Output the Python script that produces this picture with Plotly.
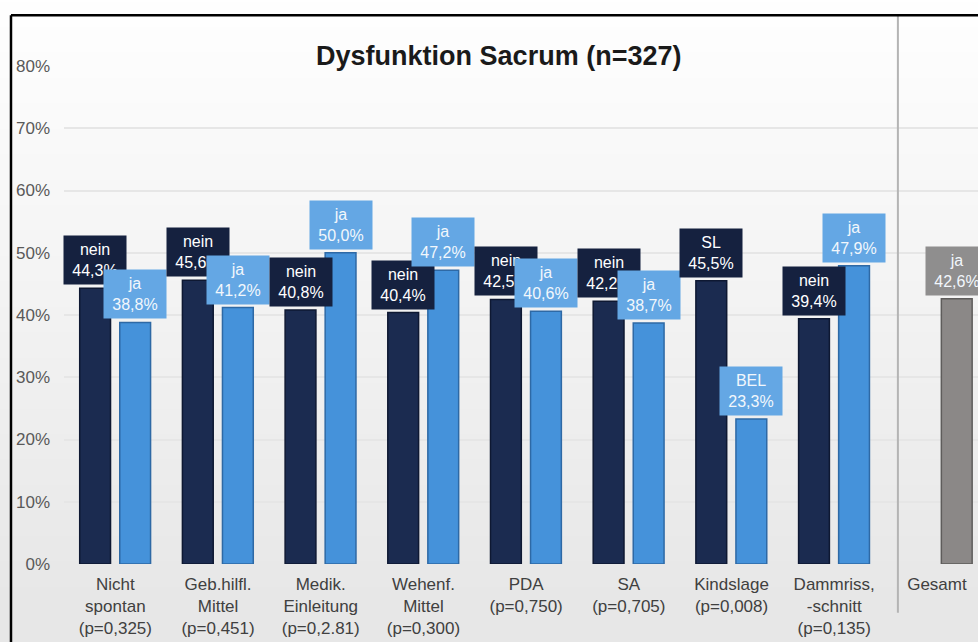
import plotly.graph_objects as go

# Data
categories = [
    "Nicht<br>spontan<br>(p=0,325)",
    "Geb.hilfl.<br>Mittel<br>(p=0,451)",
    "Medik.<br>Einleitung<br>(p=0,2.81)",
    "Wehenf.<br>Mittel<br>(p=0,300)",
    "PDA<br>(p=0,750)",
    "SA<br>(p=0,705)",
    "Kindslage<br>(p=0,008)",
    "Dammriss,<br>-schnitt<br>(p=0,135)",
    "Gesamt",
]
nein_values = [44.3, 45.6, 40.8, 40.4, 42.5, 42.2, 45.5, 39.4, None]
ja_values = [38.8, 41.2, 50.0, 47.2, 40.6, 38.7, 23.3, 47.9, 42.6]
nein_names = ["nein", "nein", "nein", "nein", "nein", "nein", "SL", "nein", ""]
ja_names = ["ja", "ja", "ja", "ja", "ja", "ja", "BEL", "ja", "ja"]
y_ticks = [0, 10, 20, 30, 40, 50, 60, 70, 80]

COLORS = {
    'dark': '#1b2b50',
    'dark_line': '#0e1832',
    'dark_box': '#15213f',
    'light': '#4592da',
    'light_line': '#2e69a5',
    'light_box': '#64a7e4',
    'gray': '#8b8887',
    'gray_line': '#5e5c5b',
    'gray_box': '#8f8e8e',
    'axis_text': '#595959',
    'cat_text': '#404040',
}
FONT_FAMILY = "Liberation Sans, Arial, sans-serif"

BAR_W = 0.30
DARK_OFF = -0.347
LIGHT_OFF = 0.043

x_idx = list(range(len(categories)))
light_colors = [COLORS['light']] * (len(categories) - 1) + [COLORS['gray']]
light_lines = [COLORS['light_line']] * (len(categories) - 1) + [COLORS['gray_line']]

fig = go.Figure()
fig.add_trace(go.Bar(
    x=x_idx, y=nein_values, width=BAR_W, offset=DARK_OFF,
    marker=dict(color=COLORS['dark'], line=dict(color=COLORS['dark_line'], width=1.5)),
    name='nein', showlegend=False, hoverinfo='skip',
))
fig.add_trace(go.Bar(
    x=x_idx, y=ja_values, width=BAR_W, offset=LIGHT_OFF,
    marker=dict(color=light_colors, line=dict(color=light_lines, width=1.5)),
    name='ja', showlegend=False, hoverinfo='skip',
))


def fmt(v):
    return f"{v:.1f}".replace('.', ',') + '%'


annotations = []
for i in x_idx:
    if nein_values[i] is not None:
        annotations.append(dict(
            x=i + DARK_OFF + BAR_W / 2, y=nein_values[i], xref='x', yref='y',
            text=f"{nein_names[i]}<br>{fmt(nein_values[i])}",
            showarrow=False, yanchor='bottom', yshift=3,
            bgcolor=COLORS['dark_box'], borderpad=3, width=56, height=42,
            font=dict(family=FONT_FAMILY, size=16, color='#ffffff'),
        ))
    box = COLORS['gray_box'] if i == len(categories) - 1 else COLORS['light_box']
    annotations.append(dict(
        x=i + LIGHT_OFF + BAR_W / 2, y=ja_values[i], xref='x', yref='y',
        text=f"{ja_names[i]}<br>{fmt(ja_values[i])}",
        showarrow=False, yanchor='bottom', yshift=3,
        bgcolor=box, borderpad=3, width=56, height=42,
        font=dict(family=FONT_FAMILY, size=16, color='#f2f7fc'),
    ))

# soft vertical background gradient (stacked translucent bands)
shapes = []
n_bands = 24
top, bottom = 1.13, -0.16
for k in range(n_bands):
    shapes.append(dict(
        type='rect', xref='paper', yref='paper', layer='below',
        x0=-0.2, x1=1.1, y0=bottom, y1=top - k * (top - bottom) / n_bands * 0.95,
        fillcolor='rgba(0,0,0,0.0025)', line=dict(width=0),
    ))

# separator before "Gesamt"
shapes.append(dict(type='line', xref='x', yref='paper', x0=7.62, x1=7.62,
                   y0=-0.098, y1=1.102, line=dict(color='#b4b4b4', width=2)))
# black frame (top and left edges)
shapes.append(dict(type='line', xref='paper', yref='paper', x0=-0.058, x1=1.05,
                   y0=1.102, y1=1.102, line=dict(color='#000000', width=2.5)))
shapes.append(dict(type='line', xref='paper', yref='paper', x0=-0.058, x1=-0.058,
                   y0=1.102, y1=-0.2, line=dict(color='#000000', width=2.5)))

fig.update_layout(
    width=978, height=642,
    margin=dict(l=64, r=0, t=66, b=78),
    paper_bgcolor='#ffffff',
    plot_bgcolor='rgba(0,0,0,0)',
    font=dict(family=FONT_FAMILY, color=COLORS['axis_text']),
    title=dict(text="<b>Dysfunktion Sacrum (n=327)</b>", xref='container', x=0.51,
               y=1 - 56 / 642, xanchor='center', yanchor='middle',
               font=dict(size=27, color='#1a1a1a', family=FONT_FAMILY)),
    barmode='overlay',
    hovermode=False,
    xaxis=dict(
        tickmode='array', tickvals=x_idx, ticktext=categories,
        range=[-0.5, 8.4], showgrid=False, zeroline=False, showline=False,
        tickfont=dict(size=17, color=COLORS['cat_text']), ticks='', ticklabelstandoff=8,
    ),
    yaxis=dict(
        range=[0, 80], tickvals=y_ticks, ticktext=[f"{t}%" for t in y_ticks],
        showgrid=True, gridcolor='#e6e6e6', gridwidth=1.5, zeroline=False,
        showline=False, ticks='', ticklabelstandoff=13,
        tickfont=dict(size=17, color=COLORS['axis_text']),
    ),
    annotations=annotations,
    shapes=shapes,
)

fig.write_html(
    "out.html",
    config={'displayModeBar': False},
    post_script="document.body.style.margin='0';document.body.style.overflow='hidden';",
)
